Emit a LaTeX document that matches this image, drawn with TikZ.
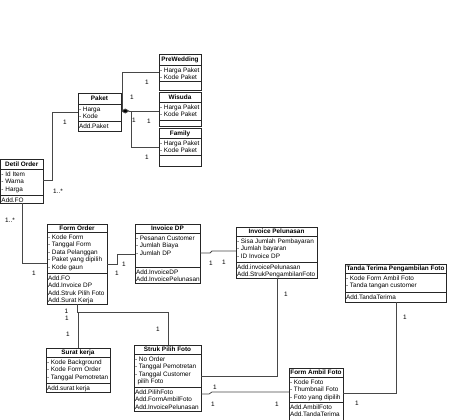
\documentclass[tikz,border=0pt]{standalone}
\usepackage{fontspec}
\setmainfont{Liberation Sans}
\usetikzlibrary{fit,arrows.meta}
\tikzset{
 box/.style={draw=black!85, line width=0.8pt},
 boxnode/.style={box, inner sep=0pt, outer sep=0pt},
 conn/.style={draw=black!72, line width=0.8pt},
 ttl/.style={font=\bfseries\fontsize{6.4}{7.5}\selectfont, inner sep=0pt, anchor=base},
 txt/.style={font=\fontsize{6.4}{7.5}\selectfont, inner sep=0pt, anchor=base west},
 lbl/.style={font=\fontsize{6.4}{7.5}\selectfont, inner sep=0pt},
}
\newcommand{\umlclass}[9]{%
 \coordinate (#1-nw) at (#2,#4);
 \coordinate (#1-se) at (#3,#7);
 \coordinate (#1-o) at (#2,#6);
 \node[boxnode, fit=(#1-nw)(#1-se)] (#1) {};
 \draw[box] (#2,#5) -- (#3,#5) (#2,#6) -- (#3,#6);
 \node[ttl] (#1-t) at ({(#2+#3)/2},{(#4+#5)/2+2.4}) {#8};
 \foreach \s [count=\i] in {#9} {\node[txt] (#1-a\i) at ({#2+0.8},{#5+7.3+(\i-1)*7.5}) {\s};}
}
\newcommand{\umlops}[2]{%
 \foreach \s [count=\i] in {#2} {\node[txt] (#1-o\i) at ([shift={(0.8,{7.3+(\i-1)*7.5})}]#1-o) {\s};}
}
\begin{document}
\begin{tikzpicture}[x=1pt,y=-1pt]
\useasboundingbox (0,0) rectangle (474,420);
\umlclass{paket}{78}{121}{93}{104}{121}{131}{Paket}{- Harga, - Kode}
\umlops{paket}{Add.Paket}
\umlclass{prewed}{159}{201}{54}{65}{81}{90}{PreWedding}{- Harga Paket, - Kode Paket}
\umlclass{wisuda}{159}{201}{92}{102}{120}{126}{Wisuda}{- Harga Paket, - Kode Paket}
\umlclass{family}{159}{201}{128}{138}{155}{166}{Family}{- Harga Paket, - Kode Paket}
\umlclass{detil}{0.5}{43}{159}{169}{195}{203}{Detil Order}{- Id Item, - Warna, - Harga}
\umlops{detil}{Add.FO}
\umlclass{form}{47}{107}{224}{232}{273}{304}{Form Order}{- Kode Form, - Tanggal Form, - Data Pelanggan, - Paket yang dipilih, - Kode gaun}
\umlops{form}{Add.FO, Add.Invoice DP, Add.Struk Pilih Foto, Add.Surat Kerja}
\umlclass{invdp}{135}{200}{224}{233}{267}{283}{Invoice DP}{- Pesanan Customer, - Jumlah Biaya, - Jumlah DP}
\umlops{invdp}{Add.InvoiceDP, Add.InvoicePelunasan}
\umlclass{invpel}{236}{317}{227}{236}{262}{278}{Invoice Pelunasan}{- Sisa Jumlah Pembayaran, - Jumlah bayaran, - ID Invoice DP}
\umlops{invpel}{Add.invoicePelunasan, Add.StrukPengambilanFoto}
\umlclass{tanda}{345}{446}{264}{273}{292}{302}{Tanda Terima Pengambilan Foto}{- Kode Form Ambil Foto, - Tanda tangan customer}
\umlops{tanda}{Add.TandaTerima}
\umlclass{surat}{46}{110}{348}{357}{383}{392}{Surat kerja}{- Kode Background, - Kode Form Order, - Tanggal Pemotretan}
\umlops{surat}{Add.surat kerja}
\umlclass{struk}{134}{201}{345}{354}{387}{411}{Struk Pilih Foto}{- No Order, - Tanggal Pemotretan, - Tanggal Customer, \hspace*{2.5pt}pilih Foto}
\umlops{struk}{Add.PilihFoto, Add.FormAmbilFoto, Add.InvoicePelunasan}
\umlclass{ambil}{289}{343}{368}{377}{402}{420}{Form Ambil Foto}{- Kode Foto, - Thumbnail Foto, - Foto yang dipilih}
\umlops{ambil}{Add.AmbilFoto, Add.TandaTerima}
% connectors
\coordinate (dia) at (paket.east |- 0,111);
\draw[conn, {Diamond[length=8.5pt,width=5pt,fill=black]}-] (dia) -- (wisuda.west |- dia);
\draw[conn] ([xshift=1pt]dia) |- (prewed.west |- 0,72);
\draw[conn] ([xshift=10pt]dia) |- (family.west |- 0,147);
\draw[conn] (paket.west |- 0,112) -| (52,180) -- (detil.east |- 0,180);
\draw[conn] (detil.south -| 22,0) |- (form.west |- 0,263);
\draw[conn] (form.east |- 0,264) -- (117,264) |- (invdp.west |- 0,254);
\draw[conn] (invdp.east |- 0,253) -- (210,253) -- (212,251) -- (invpel.west |- 0,251);
\draw[conn] (invpel.south -| 277,0) |- (struk.east |- 0,376);
\draw[conn] (struk.east |- 0,394) -- (209,394) -- (212,392) -- (ambil.west |- 0,392);
\draw[conn] (ambil.east |- 0,393) -| (tanda.south -| 396,0);
\draw[conn] (form.south -| 77,0) -- (77,312) -| (struk.north -| 168,0);
\draw[conn] (surat.north -| 78,0) -- (78,312);
% multiplicities
\node[lbl] (m1) at (65,122) {1};
\node[lbl] (m2) at (58,191) {1..*};
\node[lbl] (m3) at (10,220) {1..*};
\node[lbl] (m4) at (34,273) {1};
\node[lbl] (m5) at (147,82) {1};
\node[lbl] (m6) at (132,97) {1};
\node[lbl] (m7) at (134,120) {1};
\node[lbl] (m8) at (149,121) {1};
\node[lbl] (m9) at (147,157) {1};
\node[lbl] (m10) at (124,264) {1};
\node[lbl] (m11) at (117,273) {1};
\node[lbl] (m12) at (211,263) {1};
\node[lbl] (m13) at (224,262) {1};
\node[lbl] (m14) at (286,294) {1};
\node[lbl] (m15) at (215,387) {1};
\node[lbl] (m16) at (213,404) {1};
\node[lbl] (m17) at (277,404) {1};
\node[lbl] (m18) at (405,317) {1};
\node[lbl] (m19) at (357,403) {1};
\node[lbl] (m20) at (66.5,311.5) {1};
\node[lbl] (m21) at (67,318) {1};
\node[lbl] (m22) at (68,334) {1};
\node[lbl] (m23) at (158,329) {1};
\end{tikzpicture}
\end{document}
